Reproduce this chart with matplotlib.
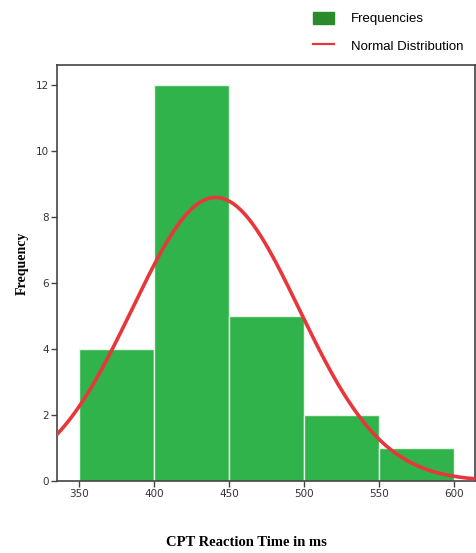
import numpy as np
import matplotlib
matplotlib.use('Agg')
from matplotlib import pyplot as plt
from matplotlib.patches import Patch
from matplotlib.lines import Line2D

# histogram bins and counts
bin_edges = [350, 400, 450, 500, 550, 600]
counts = [4, 12, 5, 2, 1]

# fitted normal curve parameters (estimated)
mean_rt = 441
sd_rt = 55.7

x_ticks = [350, 400, 450, 500, 550, 600]
y_ticks = [0, 2, 4, 6, 8, 10, 12]

bar_green = '#2fb34a'
legend_green = '#2b8a2b'
curve_red = '#e8373c'

fig = plt.figure(figsize=(4.76, 5.53), dpi=100)
ax = fig.add_axes([0.120, 0.130, 0.878, 0.752])

widths = np.diff(bin_edges)
ax.bar(bin_edges[:-1], counts, width=widths, align='edge',
       color=bar_green, edgecolor='#e8f5e8', linewidth=1.0, zorder=2)

n = sum(counts)
bw = widths[0]
xs = np.linspace(335, 614, 400)
ys = n * bw * np.exp(-0.5 * ((xs - mean_rt) / sd_rt) ** 2) / (sd_rt * np.sqrt(2 * np.pi))
ax.plot(xs, ys, color=curve_red, linewidth=2.6, zorder=3, solid_capstyle='round')

ax.set_xlim(335.3, 614)
ax.set_ylim(0, 12.6)
ax.set_xticks(x_ticks)
ax.set_yticks(y_ticks)
ax.tick_params(direction='out', length=4, width=1.0, color='#444444',
               labelsize=7.5, labelcolor='#333333', pad=2)
for s in ax.spines.values():
	s.set_color('#444444')
	s.set_linewidth(1.2)

ax.set_xlabel('CPT Reaction Time in ms', fontsize=10.5, fontweight='bold',
              family='Liberation Serif')
ax.set_ylabel('Frequency', fontsize=10, fontweight='bold',
              family='Liberation Serif')
ax.xaxis.set_label_coords(0.452, -0.147)
ax.yaxis.set_label_coords(-0.084, 0.524)
ax.xaxis.label.set_va('center')
ax.yaxis.label.set_va('center')

handles = [Patch(facecolor=legend_green, edgecolor=legend_green),
           Line2D([0], [0], color=curve_red, linewidth=1.6)]
fig.legend(handles, ['Frequencies', 'Normal Distribution'],
           loc='upper left', bbox_to_anchor=(0.632, 1.0), frameon=False,
           handlelength=1.6, handleheight=1.0, handletextpad=1.3, labelspacing=1.05,
           prop={'family': 'Liberation Sans', 'size': 9.5})

fig.savefig('out.png', dpi=100)
